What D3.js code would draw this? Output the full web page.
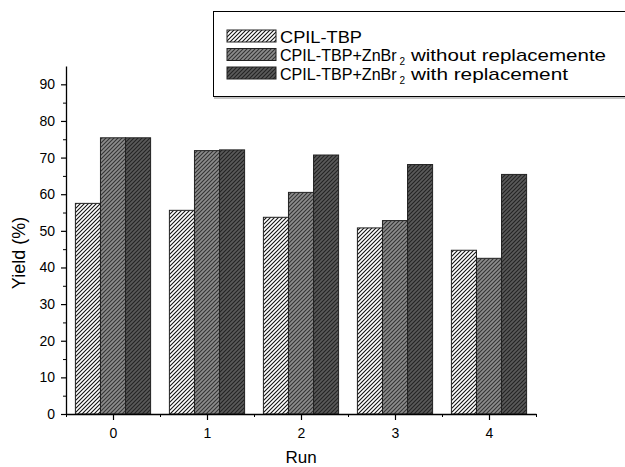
<!DOCTYPE html>
<html>
<head>
<meta charset="utf-8">
<script src="https://cdn.jsdelivr.net/npm/d3@7"></script>
<style>
body{margin:0;background:#fff;}
text{font-family:"Liberation Sans",Arial,sans-serif;fill:#000;}
</style>
</head>
<body>
<script>
var runs = [0,1,2,3,4];
var seriesNames = ['CPIL-TBP','CPIL-TBP+ZnBr','CPIL-TBP+ZnBr'];
var seriesSuffix = ['','without replacemente','with replacement'];
var plain = [57.5,55.6,53.7,50.8,44.7];
var withoutRep = [75.4,71.9,60.5,52.8,42.5];
var withRep = [75.4,72.1,70.7,68.1,65.4];
var yTicks = [0,10,20,30,40,50,60,70,80,90];

var series = [plain, withoutRep, withRep];
var fills = ['#ffffff','#8c8c8c','#5a5a5a'];
var hatch = ['#111','#333','#222'];

var W = 625, H = 467;
var svg = d3.select('body').append('svg').attr('width',W).attr('height',H);
var defs = svg.append('defs');
fills.forEach(function(f,i){
  var p = defs.append('pattern').attr('id','h'+i).attr('patternUnits','userSpaceOnUse')
    .attr('width',4).attr('height',4);
  p.append('rect').attr('width',4).attr('height',4).attr('fill',f);
  p.append('path').attr('d','M-1,1 l2,-2 M0,4 l4,-4 M3,5 l2,-2')
    .attr('stroke',hatch[i]).attr('stroke-width',1.1);
});

var x = d3.scaleLinear().domain([-0.5,4.5]).range([66,536]);
var y = d3.scaleLinear().domain([0,95]).range([414,66]);
var bw = (x(1)-x(0))*0.8/3;

series.forEach(function(s,si){
  svg.selectAll('rect.s'+si).data(s).enter().append('rect')
    .attr('class','s'+si)
    .attr('x',function(d,i){return x(runs[i]) - 1.5*bw + si*bw;})
    .attr('y',function(d){return y(d);})
    .attr('width',bw)
    .attr('height',function(d){return y(0)-y(d);})
    .attr('fill','url(#h'+si+')')
    .attr('stroke','#222').attr('stroke-width',1);
});

// y axis
var yAxis = d3.axisLeft(y).tickValues(yTicks).tickSize(5).tickPadding(6).tickSizeOuter(0);
var gy = svg.append('g').attr('transform','translate(66,0)').call(yAxis);
gy.selectAll('text').style('font-size','14px');
gy.select('.domain').attr('stroke-width',1.3);
gy.selectAll('.tick line').attr('stroke-width',1.2);
svg.append('g').attr('transform','translate(66,0)')
  .call(d3.axisLeft(y).tickValues(d3.range(5,95,10)).tickSize(3).tickFormat('').tickSizeOuter(0))
  .select('.domain').remove();

// x axis
var xAxis = d3.axisBottom(x).tickValues(runs).tickSize(6).tickPadding(8).tickSizeOuter(0).tickFormat(d3.format('d'));
var gx = svg.append('g').attr('transform','translate(0,414)').call(xAxis);
gx.selectAll('text').style('font-size','14px');
gx.select('.domain').attr('stroke-width',1.3);
gx.selectAll('.tick line').attr('stroke-width',1.2);
svg.append('g').attr('transform','translate(0,414)')
  .call(d3.axisBottom(x).tickValues([-0.5,0.5,1.5,2.5,3.5,4.5]).tickSize(3).tickFormat('').tickSizeOuter(0))
  .select('.domain').remove();

svg.append('text').attr('x',301).attr('y',463).attr('text-anchor','middle')
  .style('font-size','17px').text('Run');
svg.append('text').attr('transform','translate(25,253) rotate(-90)').attr('text-anchor','middle')
  .style('font-size','18px').text('Yield (%)');

// legend
var lg = svg.append('g');
lg.append('rect').attr('x',213.5).attr('y',11.5).attr('width',430).attr('height',85)
  .attr('fill','#fff').attr('stroke','#000').attr('stroke-width',1);
lg.append('line').attr('x1',214).attr('x2',625).attr('y1',98).attr('y2',98)
  .attr('stroke','#888').attr('stroke-width',1.2);
var suffixW = [0,195,157];
seriesNames.forEach(function(n,i){
  var yy = 30 + i*18.5;
  lg.append('rect').attr('x',227).attr('y',yy).attr('width',49).attr('height',12)
    .attr('fill','url(#h'+i+')').attr('stroke','#222');
  var t = lg.append('text').attr('x',280).attr('y',yy+12.5).style('font-size','17px');
  if(i==0){
    t.append('tspan').attr('textLength',82).attr('lengthAdjust','spacingAndGlyphs').text(n);
  } else {
    t.append('tspan').style('font-size','16.1px').text(n);
    t.append('tspan').attr('x',399.5).attr('dy',4).style('font-size','10px').text('2');
    t.append('tspan').attr('x',411).attr('dy',-4)
      .attr('textLength',suffixW[i]).attr('lengthAdjust','spacingAndGlyphs').text(seriesSuffix[i]);
  }
});
</script>
</body>
</html>
